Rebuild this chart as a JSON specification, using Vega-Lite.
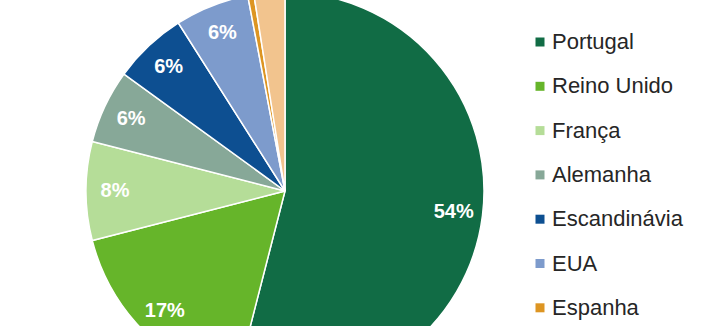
{
  "$schema": "https://vega.github.io/schema/vega-lite/v6.json",
  "autosize": "none",
  "padding": {"left": 0, "top": 0, "right": 142, "bottom": 0},
  "width": 570,
  "height": 382,
  "background": "white",
  "data": {
    "values": [
      {"country": "Portugal", "pct": 54, "label": "54%", "order": 1},
      {"country": "Reino Unido", "pct": 17, "label": "17%", "order": 2},
      {"country": "França", "pct": 8, "label": "8%", "order": 3},
      {"country": "Alemanha", "pct": 6, "label": "6%", "order": 4},
      {"country": "Escandinávia", "pct": 6, "label": "6%", "order": 5},
      {"country": "EUA", "pct": 6, "label": "6%", "order": 6},
      {"country": "Espanha", "pct": 0.5, "label": "", "order": 7},
      {"country": "Outros", "pct": 2.5, "label": "", "order": 8}
    ]
  },
  "encoding": {
    "theta": {"field": "pct", "type": "quantitative", "stack": true},
    "order": {"field": "order", "type": "quantitative"}
  },
  "layer": [
    {
      "mark": {"type": "arc", "radius": 199, "stroke": "white", "strokeWidth": 1.5},
      "encoding": {
        "color": {
          "field": "country",
          "type": "nominal",
          "scale": {
            "domain": ["Portugal", "Reino Unido", "França", "Alemanha", "Escandinávia", "EUA", "Espanha", "Outros"],
            "range": ["#116c45", "#66b52a", "#b5dd98", "#87a898", "#0d4f91", "#7d9bcc", "#dd9522", "#f2c48e"]
          },
          "legend": {
            "title": null,
            "orient": "none",
            "legendX": 529,
            "legendY": 31,
            "padding": 0,
            "symbolType": "square",
            "symbolSize": 81,
            "symbolStrokeWidth": 0,
            "symbolOpacity": 1,
            "labelFont": "Liberation Sans",
            "labelFontSize": 22,
            "labelColor": "#262626",
            "labelOffset": 1,
            "rowPadding": 22.3,
            "labelLimit": 300
          }
        }
      }
    },
    {
      "mark": {"type": "text", "radius": 170, "fill": "white", "font": "Liberation Sans", "fontWeight": "bold", "fontSize": 20, "align": "center", "baseline": "middle"},
      "encoding": {
        "text": {"field": "label", "type": "nominal"},
        "detail": {"field": "country", "type": "nominal"}
      }
    }
  ],
  "config": {"view": {"stroke": null}}
}
